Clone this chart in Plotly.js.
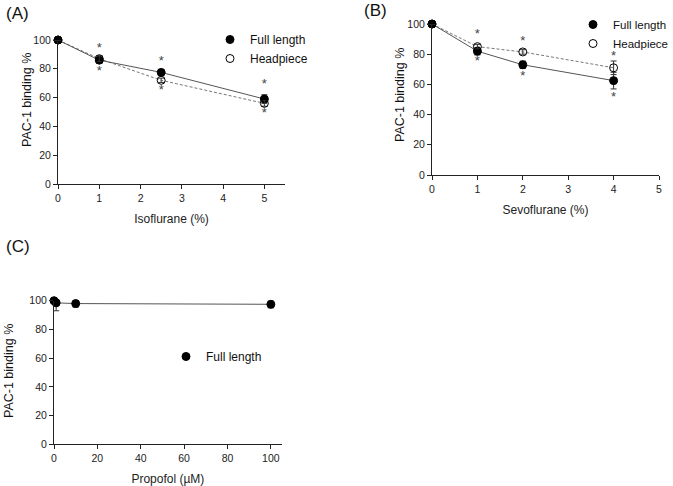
<!DOCTYPE html>
<html>
<head>
<meta charset="utf-8">
<script src="https://cdn.plot.ly/plotly-3.0.1.min.js"></script>
<style>html,body{margin:0;padding:0;background:#fff}#chart{width:673px;height:486px}</style>
</head>
<body>
<div id="chart"></div>
<script>
// ---- Data ----
var isoDose = [0, 1, 2.5, 5];
var isoFull = [100, 86, 77.5, 59];
var isoFullErr = [0, 2, 2, 3];
var isoHead = [100, 87, 72, 56];
var isoHeadErr = [0, 2, 1.5, 2];
var isoStarX = [1, 1, 2.5, 2.5, 5, 5];
var isoStarY = [94, 78, 85, 65, 69, 49];

var sevoDose = [0, 1, 2, 4];
var sevoFull = [100, 82, 73, 62.5];
var sevoFullErr = [0, 2.5, 2.5, 5.5];
var sevoHead = [100, 85, 81.5, 71];
var sevoHeadErr = [0, 1.5, 1.5, 4.5];
var sevoStarX = [1, 1, 2, 2, 4, 4];
var sevoStarY = [93, 75, 88, 65, 78, 51];

var propDose = [0, 1, 10, 100];
var propFull = [100, 98.5, 98, 97.5];
var propFullErr = [0, 5.5, 2.5, 2.5];

var yTicks = [0, 20, 40, 60, 80, 100];
var isoTicks = [0, 1, 2, 3, 4, 5];
var sevoTicks = [0, 1, 2, 3, 4, 5];
var propTicks = [0, 20, 40, 60, 80, 100];

var seriesNames = ['Full length', 'Headpiece'];
var xTitles = ['Isoflurane (%)', 'Sevoflurane (%)', 'Propofol (\u00b5M)'];
var yTitle = 'PAC-1 binding %';
var panelLabels = ['(A)', '(B)', '(C)'];

// ---- Styling helpers ----
var W = 673, H = 486;
var FONT = 'Liberation Sans, Arial, sans-serif';
function errBar(arr) {
  return {type: 'data', array: arr, visible: true, color: '#333', thickness: 1, width: 3};
}
var fullMarker = {symbol: 'circle', size: 8, color: '#000', line: {color: '#000', width: 1}};
var headMarker = {symbol: 'circle-open', size: 8, color: '#000', line: {color: '#000', width: 1}};
function lineTrace(x, y, xa, ya, dash, color) {
  return {x: x, y: y, xaxis: xa, yaxis: ya, mode: 'lines', showlegend: false, hoverinfo: 'skip',
          line: {color: color, width: 1, dash: dash}, cliponaxis: false};
}
function ptTrace(x, y, err, xa, ya, marker, name, legend) {
  return {x: x, y: y, error_y: errBar(err), xaxis: xa, yaxis: ya, mode: 'markers', name: name,
          marker: marker, legend: legend, cliponaxis: false};
}
function starTrace(x, y, xa, ya) {
  return {x: x, y: y, xaxis: xa, yaxis: ya, mode: 'text', text: x.map(function(){return '*';}),
          textposition: 'middle center', textfont: {family: FONT, size: 13, color: '#444'},
          showlegend: false, hoverinfo: 'skip', cliponaxis: false};
}

var traces = [
  lineTrace(isoDose, isoHead, 'x', 'y', '3px,2px', '#777'),
  lineTrace(isoDose, isoFull, 'x', 'y', 'solid', '#555'),
  ptTrace(isoDose, isoFull, isoFullErr, 'x', 'y', fullMarker, seriesNames[0], 'legend'),
  ptTrace(isoDose, isoHead, isoHeadErr, 'x', 'y', headMarker, seriesNames[1], 'legend'),
  starTrace(isoStarX, isoStarY, 'x', 'y'),

  lineTrace(sevoDose, sevoHead, 'x2', 'y2', '3px,2px', '#777'),
  lineTrace(sevoDose, sevoFull, 'x2', 'y2', 'solid', '#555'),
  ptTrace(sevoDose, sevoFull, sevoFullErr, 'x2', 'y2', fullMarker, seriesNames[0], 'legend2'),
  ptTrace(sevoDose, sevoHead, sevoHeadErr, 'x2', 'y2', headMarker, seriesNames[1], 'legend2'),
  starTrace(sevoStarX, sevoStarY, 'x2', 'y2'),

  lineTrace(propDose, propFull, 'x3', 'y3', 'solid', '#555'),
  ptTrace(propDose, propFull, propFullErr, 'x3', 'y3', fullMarker, seriesNames[0], 'legend3')
];

function xAxis(domain, range, ticks, title, anchor) {
  return {domain: domain, range: range, anchor: anchor, tickvals: ticks, ticktext: ticks.map(String),
          showgrid: false, zeroline: false, showline: true, linecolor: '#222', linewidth: 1,
          ticks: 'outside', ticklen: 4, tickcolor: '#222', tickwidth: 1,
          tickfont: {family: FONT, size: 10.5, color: '#222'},
          title: {text: title, font: {family: FONT, size: 12, color: '#222'}, standoff: 12}};
}
function yAxis(domain, anchor) {
  return {domain: domain, range: [0, 100], anchor: anchor, tickvals: yTicks, ticktext: yTicks.map(String),
          showgrid: false, zeroline: false, showline: true, linecolor: '#222', linewidth: 1,
          ticks: 'outside', ticklen: 4, tickcolor: '#222', tickwidth: 1,
          tickfont: {family: FONT, size: 10.5, color: '#222'}};
}
function px2x(p) { return p / W; }
function px2y(p) { return 1 - p / H; }

function legendAt(xpx, ypx, xanchor, fsize) {
  return {x: px2x(xpx), y: px2y(ypx), xanchor: xanchor || 'left', yanchor: 'top', bgcolor: 'rgba(0,0,0,0)',
          borderwidth: 0, font: {family: FONT, size: fsize || 12, color: '#111'}, tracegroupgap: 0,
          itemwidth: 30};
}
function label(text, xpx, ypx, size, angle) {
  return {text: text, xref: 'paper', yref: 'paper', x: px2x(xpx), y: px2y(ypx),
          xanchor: angle ? 'center' : 'left', yanchor: 'middle', textangle: angle || 0,
          showarrow: false, font: {family: FONT, size: size, color: '#111'}};
}

var layout = {
  width: W, height: H,
  margin: {l: 0, r: 0, t: 0, b: 0},
  paper_bgcolor: '#fff', plot_bgcolor: '#fff',
  showlegend: true,
  xaxis: xAxis([px2x(58), px2x(285)], [0, 5.5], isoTicks, xTitles[0], 'y'),
  yaxis: yAxis([px2y(184), px2y(40)], 'x'),
  xaxis2: xAxis([px2x(432), px2x(659)], [0, 5], sevoTicks, xTitles[1], 'y2'),
  yaxis2: yAxis([px2y(175), px2y(24)], 'x2'),
  xaxis3: xAxis([px2x(54), px2x(281.7)], [0, 105], propTicks, xTitles[2], 'y3'),
  yaxis3: yAxis([px2y(444.3), px2y(300.7)], 'x3'),
  legend: legendAt(210, 25),
  legend2: legendAt(673, 10, 'right', 11.5),
  legend3: legendAt(166, 342),
  annotations: [
    label(panelLabels[0], 4, 13, 17),
    label(panelLabels[1], 362, 11, 17),
    label(panelLabels[2], 4, 246, 17),
    label(yTitle, 27, 100, 12.5, -90),
    label(yTitle, 400, 95, 12.5, -90),
    label(yTitle, 9, 371, 12.5, -90)
  ]
};

Plotly.newPlot('chart', traces, layout, {displayModeBar: false, staticPlot: true});
</script>
</body>
</html>
